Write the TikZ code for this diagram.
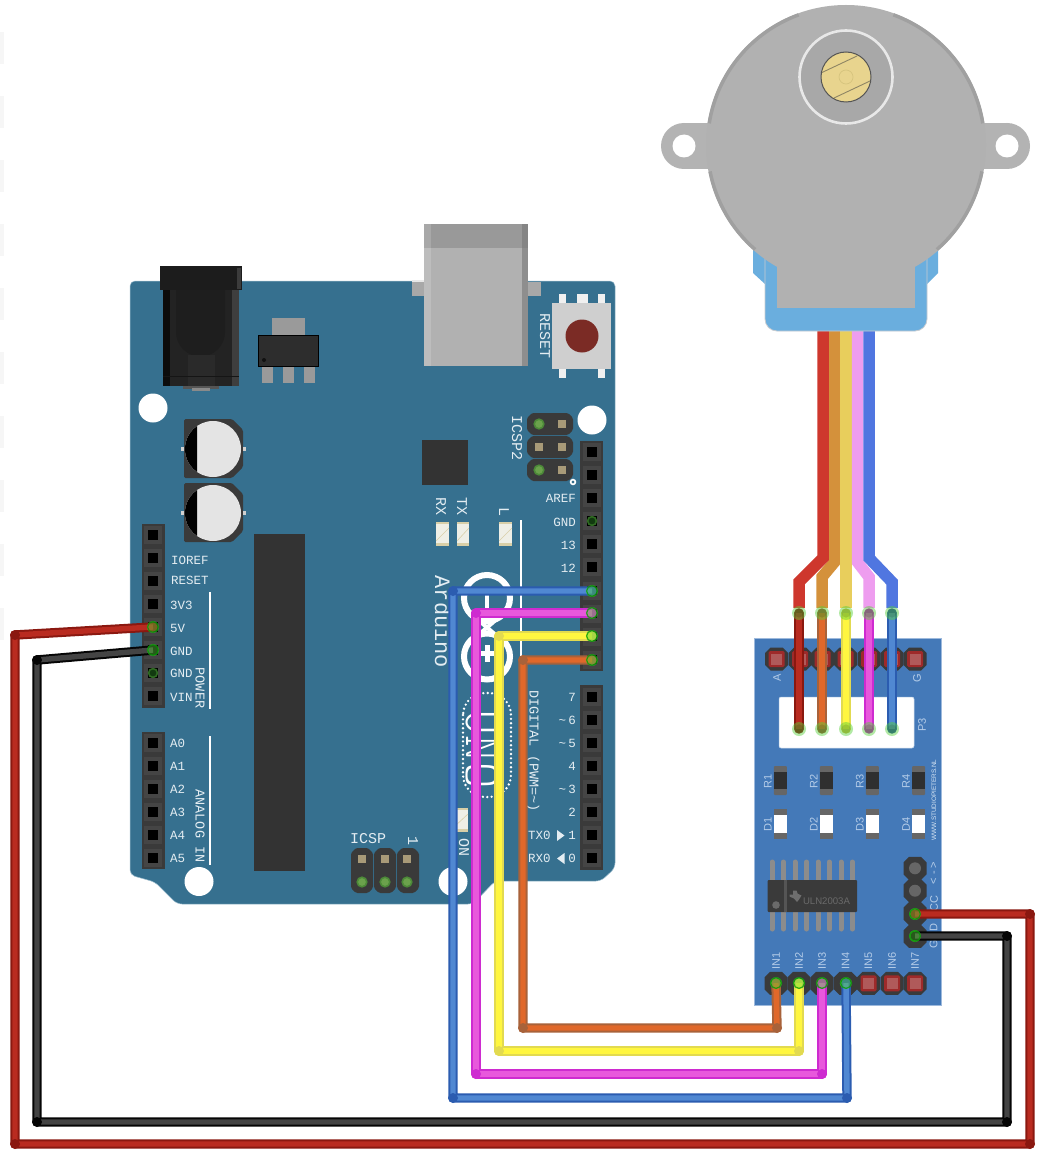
\documentclass[tikz,border=0pt]{standalone}
\usepackage{fontspec}
\setmainfont{Liberation Sans}
\newfontfamily\monof{Liberation Mono}
\newfontfamily\unof{Latin Modern Mono Light}
\usetikzlibrary{calc}
\definecolor{boardc}{HTML}{36708F}
\definecolor{btext}{HTML}{E4EDF2}
\definecolor{modc}{HTML}{4479B8}
\definecolor{mtext}{HTML}{B4CCE8}
\definecolor{hdr}{HTML}{3A3A3A}
\definecolor{hdrb}{HTML}{454545}
\definecolor{motorc}{HTML}{B1B1B1}
\definecolor{motord}{HTML}{A0A0A0}
\definecolor{bracket}{HTML}{6AAEDE}
\definecolor{tanc}{HTML}{A89A78}
\definecolor{halo}{HTML}{55D038}
\newcommand\szf[1]{\fontsize{#1}{#1}\selectfont}
\tikzset{
  HTML/.code={\definecolor{tmpc}{HTML}{#1}\tikzset{color=tmpc}},
  HF/.code={\definecolor{tmpf}{HTML}{#1}\tikzset{fill=tmpf}},
  HD/.code={\definecolor{tmpd}{HTML}{#1}\tikzset{draw=tmpd}},
  HT/.code={\definecolor{tmpt}{HTML}{#1}\tikzset{text=tmpt}},
  blab/.style={font=\monof\szf{12.5},text=btext,inner sep=0pt},
  blabr/.style={font=\monof\szf{13.5},text=btext,inner sep=0pt,rotate=-90},
  blabb/.style={font=\monof\szf{15},text=btext,inner sep=0pt,rotate=-90},
  mlab/.style={font=\szf{11},text=mtext,inner sep=0pt,rotate=90},
}
% header strip with square pads
\newcommand\hdrbg[4]{\fill[hdr] (#1,#2) rectangle (#3,#4);}
\newcommand\hpin[2]{\fill[hdrb] ($(#1,#2)+(-9,-9)$) rectangle ($(#1,#2)+(9,9)$);\fill[black] ($(#1,#2)+(-4.8,-4.8)$) rectangle ($(#1,#2)+(4.8,4.8)$);}
\newcommand\gpin[2]{\fill[hdrb] ($(#1,#2)+(-9,-9)$) rectangle ($(#1,#2)+(9,9)$);\fill[black] ($(#1,#2)+(-4.8,-4.8)$) rectangle ($(#1,#2)+(4.8,4.8)$);\draw[line width=1.6pt,HD=2F6A22,HF=123A10] (#1,#2) circle[radius=4.4pt];}
% chamfered pad background, x1,y1,x2,y2
\newcommand\padbg[4]{\fill[hdr,rounded corners=1.5pt] ({#1+5},#2)--({#3-5},#2)--(#3,{#2+5})--(#3,{#4-5})--({#3-5},#4)--({#1+5},#4)--(#1,{#4-5})--(#1,{#2+5})--cycle;}
\newcommand\greenp[2]{\draw[line width=1.8pt,HD=3DA52A,HF=1F5A1A] (#1,#2) circle[radius=4.8pt];}
\newcommand\greeni[2]{\draw[line width=1.6pt,HD=4C8A38,HF=6BA24C] (#1,#2) circle[radius=4.8pt];}
\newcommand\tanp[2]{\fill[tanc] ($(#1,#2)+(-4,-4)$) rectangle ($(#1,#2)+(4,4)$);}
% module octagon
\newcommand\octp[2]{\fill[hdr,shift={(#1,#2)}] (-6,-11.5)--(6,-11.5)--(11.5,-6)--(11.5,6)--(6,11.5)--(-6,11.5)--(-11.5,6)--(-11.5,-6)--cycle;}
\newcommand\redp[2]{\octp{#1}{#2}\fill[HTML=9E2A2A,rounded corners=1.5pt] ($(#1,#2)+(-8,-8)$) rectangle ($(#1,#2)+(8,8)$);\fill[HTML=B05A5A] ($(#1,#2)+(-5.5,-5.5)$) rectangle ($(#1,#2)+(5.5,5.5)$);}
\newcommand\ledbox[4]{\fill[HTML=EFEFE6] (#1,#2) rectangle (#3,#4);\fill[HTML=D8CFA8] (#1,{#4-3}) rectangle (#3,#4);\fill[HTML=D8CFA8] (#1,#2) rectangle (#3,{#2+1.5});\draw[HTML=D8CFA8,line width=.6pt] (#1,{#4-5})--(#3,{#2+6});}
% wire: dark, light, path, corners
\newcommand\swire[3]{\draw[line width=9.4pt,HTML=#1,line join=round,line cap=round] #3;\draw[line width=5.4pt,HTML=#2,line join=miter] #3;}
\newcommand\wire[4]{\swire{#1}{#2}{#3}\foreach \cc in {#4}{\fill[HTML=#1] (\cc) circle[radius=5pt];}}
\newcommand\pinhalo[1]{\fill[halo,opacity=.42] (#1) circle[radius=6pt];\draw[green!60!black,opacity=.75,line width=1.2pt] (#1) circle[radius=5.4pt];}
\newcommand\palehalo[1]{\fill[halo,opacity=.45] (#1) circle[radius=7pt];\fill[black,opacity=.12] (#1) circle[radius=4.6pt];}
\begin{document}
\begin{tikzpicture}[x=1pt,y=-1pt]
\useasboundingbox (0,0) rectangle (1040,1158);
\fill[white] (0,0) rectangle (1040,1158);
\foreach \yy in {32,96,...,608}{\fill[HTML=F6F6F6] (0,\yy) rectangle (4,\yy+32);}

%%% ---------- pins as coordinates
\coordinate (d11) at (592,591);\coordinate (d10) at (592,613);\coordinate (d9) at (592,636);\coordinate (d8) at (592,660);
\coordinate (vfive) at (153,627);\coordinate (agnd) at (153,650);
\coordinate (in1) at (776,983);\coordinate (in2) at (799,983);\coordinate (in3) at (822,983);\coordinate (in4) at (846,983);
\coordinate (mvcc) at (915,914);\coordinate (mgnd) at (915,936);
\foreach \n/\xx in {a/799,b/822,c/846,d/869,e/892}{\coordinate (mt\n) at (\xx,613);\coordinate (mb\n) at (\xx,729);}

%%% ---------- Arduino board
\draw[fill=boardc,HD=9CBDCE,line width=.5pt,rounded corners=5pt] (130,281)--(615,281)--(615,868)--(601,881)--(495,881)--(473,904)--(177,904)--(155,882)--(130,875)--cycle;
% mounting holes
\foreach \xx/\yy in {153/408,592/420,199/881.5,453/881.5}{\fill[white] (\xx,\yy) circle[radius=14.5pt];}
% barrel jack
\fill[HTML=555555] (183,385) rectangle (219,389);
\fill[HTML=8A8A8A] (192,388) rectangle (210,391);
\fill[HTML=232323] (163,290) rectangle (239,386);
\fill[HTML=0C0C0C] (163,290) rectangle (170,386);
\fill[HTML=3E3E3E] (232,290) rectangle (239,386);
\fill[HTML=1E1E1E] (176,290)--(225,290)--(225,332) arc[start angle=0,end angle=-180,radius=24.5pt]--cycle;
\fill[HTML=2A2A2A] (188,355) rectangle (215,386);
\fill[HTML=151515] (163,376) rectangle (239,377);
\fill[HTML=1C1C1C] (160,266) rectangle (242,290);
\fill[HTML=3C3C3C] (237,268) rectangle (241,289);
% regulator
\fill[HTML=9A9A9A] (272,318) rectangle (305,335);
\foreach \xx in {262,283,304}{\fill[HTML=9A9A9A] (\xx,367) rectangle (\xx+11,383);}
\draw[HF=2D2D2D,draw=black,line width=1pt] (258.5,335.5) rectangle (318.5,366.5);
\fill[HTML=111111] (264,360) circle[radius=2pt];
% USB
\fill[HTML=A8A8A8] (412,282) rectangle (424,296);
\fill[HTML=A8A8A8] (528,282) rectangle (541,296);
\fill[HTML=E8E8E8] (412,280) rectangle (424,282);
\fill[HTML=B1B1B1] (424,248) rectangle (528,366);
\fill[HTML=BDBDBD] (424,248) rectangle (431,366);
\fill[HTML=8E8E8E] (522,248) rectangle (528,366);
\fill[HTML=999999] (424,224) rectangle (528,248);
\fill[HTML=A8A8A8] (424,224) rectangle (431,248);
\fill[HTML=858585] (522,224) rectangle (528,248);
% reset button
\foreach \xx in {559,598}{\fill[HTML=F0F0F0] (\xx,294) rectangle (\xx+7,303);\fill[HTML=F0F0F0] (\xx,369) rectangle (\xx+7,378);}
\fill[HTML=F0F0F0] (577,294) rectangle (588,303);
\fill[HTML=CFCFCF] (552,303) rectangle (611,369);
\fill[HTML=7B2B25] (582,336) circle[radius=16.5pt];
\node[blabb] (lreset) at (545,336) {RESET};
% capacitors
\foreach \yy in {449,513}{
  \fill[hdr,rounded corners=1.5pt] (184,\yy-30)--(232,\yy-30)--(243,\yy-19)--(243,\yy+18)--(232,\yy+29)--(184,\yy+29)--cycle;
  \fill[HTML=D0D0D0] (181,\yy-2) rectangle (184,\yy+2);
  \fill[HTML=D0D0D0] (243,\yy-2) rectangle (246,\yy+2);
  \fill[HTML=E4E4E4] (213,\yy) circle[radius=28pt];
  \begin{scope}
    \clip (180,\yy-30) rectangle (197,\yy+30);
    \fill[black] (213,\yy) circle[radius=28pt];
  \end{scope}
}
% chips
\fill[HTML=333333] (254,534) rectangle (305,871);
\fill[HTML=333333] (422,440) rectangle (468,485);
% ICSP2
\padbg{527}{413}{573}{435}\padbg{527}{436}{573}{458}\padbg{527}{459}{573}{481}
\greeni{539}{424}\tanp{562}{424}\tanp{539}{447}\tanp{562}{447}\greeni{539}{470}\tanp{562}{470}
\draw[white,fill=boardc,line width=1.6pt] (573,482) circle[radius=2.4pt];
\node[blabb] (licspb) at (517,438) {ICSP2};
% ICSP
\padbg{351}{848}{373}{893}\padbg{374}{848}{396}{893}\padbg{397}{848}{419}{893}
\foreach \xx in {362,385,407}{\tanp{\xx}{859}\greeni{\xx}{882}}
\node[font=\monof\szf{15},text=btext,inner sep=0pt] (licsp) at (368,839) {ICSP};
\node[blabb] (lione) at (413,841) {1};
% LEDs
\ledbox{436}{522}{449}{546}\ledbox{457}{522}{469}{546}\ledbox{499}{522}{512}{546}\ledbox{454}{808}{468}{832}
\node[blabb] (lrx) at (441,506) {RX};
\node[blabb] (ltx) at (462,506) {TX};
\node[blabb] (ll) at (504,512) {L};
\node[blabb] (lon) at (464,847) {ON};
% headers
\hdrbg{580}{441}{603}{671}\hdrbg{580}{685}{603}{870}\hdrbg{142}{524}{165}{708}\hdrbg{142}{732}{165}{869}
\foreach \yy in {452,475,498,544,567,590.5,613.5,636.5,659.5,697,720,743,766,789,812,835,858}{\hpin{592}{\yy}}
\gpin{592}{521}
\foreach \yy in {535,558,581,604,627,650,696,743,766,789,812,835,858}{\hpin{153}{\yy}}
\gpin{153}{673}
% white lines
\draw[white,line width=1.6pt] (210,592)--(210,709);
\draw[white,line width=1.6pt] (210,736)--(210,865);
\draw[white,line width=1.6pt] (521,520)--(521,657);
% left labels
\node[blab,anchor=west] (lioref) at (171,560) {IOREF};
\node[blab,anchor=west] (lrst) at (171,580) {RESET};
\node[blab,anchor=west] (l3v3) at (170,605) {3V3};
\node[blab,anchor=west] (l5v) at (170,628) {5V};
\node[blab,anchor=west] (lgnda) at (170,651) {GND};
\node[blab,anchor=west] (lgndb) at (170,673) {GND};
\node[blab,anchor=west] (lvin) at (170,697) {VIN};
\foreach \tx/\yy in {A0/743,A1/766,A2/789,A3/812,A4/835,A5/858}{\node[blab,anchor=west] (l\tx) at (170,\yy) {\tx};}
\node[blabr] (lpower) at (200,688) {POWER};
\node[blabr] (lanalog) at (200,826) {ANALOG IN};
% right labels
\foreach \tx/\yy in {AREF/498,GND/522,13/545,12/568,7/697,4/766,2/812}{\node[blab,anchor=east] (r\tx) at (576,\yy) {\tx};}
\node[blab,anchor=east] (rsix) at (576,720) {\textasciitilde\,6};
\node[blab,anchor=east] (rfive) at (576,743) {\textasciitilde\,5};
\node[blab,anchor=east] (rthree) at (576,789) {\textasciitilde\,3};
\node[blab,anchor=east] (rone) at (576,835.5) {1};
\node[blab,anchor=east] (rzero) at (576,858.5) {0};
\node[blab,anchor=west] (rtx) at (528,835.5) {TX0};
\node[blab,anchor=west] (rrx) at (528,858.5) {RX0};
\fill[btext] (557,830)--(564.5,835.5)--(557,841)--cycle;
\fill[btext] (564.5,853)--(557,858.5)--(564.5,864)--cycle;
\node[blabr] (ldig) at (533,751) {DIGITAL (PWM=\textasciitilde)};
% logo
\node[font=\monof\szf{22},text=btext,inner sep=0pt,rotate=-90] (larduino) at (443,622) {Arduino};
\draw[white,line width=6pt] (487,598) circle[radius=23pt];
\draw[white,line width=6pt] (487,656.5) circle[radius=23pt];
\draw[white,line width=4pt] (476,618)--(498,637);
\draw[white,line width=4pt] (498,618)--(476,637);
\fill[white] (485,593) rectangle (489,610);
\fill[white] (484.5,645) rectangle (489.5,662);
\fill[white] (479,651) rectangle (495,656);
\draw[white,line width=2.6pt,line cap=round,dash pattern=on 0pt off 4.4pt,rounded corners=22pt] (463,693) rectangle (511,797);
\node[font=\unof\szf{50},text=white,inner sep=0pt,rotate=-90] (luno) at (482,749) {UNO};

%%% ---------- Stepper motor
\foreach \xa/\xb [count=\i] in {823/799,834.5/822,846/846,857.5/869,869/892}{
  \coordinate (rt\i) at (\xa,325);\coordinate (rb\i) at (\xb,608);
}
\draw[HTML=D4913B,line width=11.5pt] (rt2)--(834.5,562)--(822,577)--(rb2);
\draw[HTML=CE372D,line width=11.5pt] (rt1)--(823,558)--(799,582)--(rb1);
\draw[HTML=E8CE5C,line width=11.5pt] (rt3)--(rb3);
\draw[HTML=EE9DEF,line width=11.5pt] (rt4)--(857.5,562)--(869,577)--(rb4);
\draw[HTML=5076E0,line width=11.5pt] (rt5)--(869,558)--(892,582)--(rb5);
\fill[bracket] (753,250)--(753,273)--(765,284)--(927,284)--(938,273)--(938,250)--cycle;
\draw[fill=bracket,HD=C8CCD0,line width=.8pt] (765,250)--(927,250)--(927,319) arc[start angle=0,end angle=-90,radius=12pt]--(777,331) arc[start angle=-90,end angle=-180,radius=12pt]--cycle;
\fill[motorc] (777,255) rectangle (915,308);
% ears
\fill[HTML=B3B3B3] (684,146) circle[radius=23pt];\fill[HTML=B3B3B3] (684,123) rectangle (725,169);
\fill[HTML=B3B3B3] (1007,146) circle[radius=23pt];\fill[HTML=B3B3B3] (970,123) rectangle (1007,169);
\fill[white] (684,146) circle[radius=11.5pt];
\fill[white] (1007,146) circle[radius=11.5pt];
% body
\fill[motorc] (846,145) circle[radius=140pt];
\foreach \aa/\bb in {110/171,191/229,9/70,-49/-11}{
  \draw[motord,line width=3.5pt] (846,145) ++(\aa:138.5pt) arc[start angle=\aa,end angle=\bb,radius=138.5pt];
}
\draw[HD=E8E8E8,HF=A8A8A8,line width=2.6pt] (846,77) circle[radius=46.5pt];
\draw[HD=555555,HF=E8D48E,line width=1pt] (846,77) circle[radius=25pt];
\draw[HTML=8E8564,line width=.9pt] (822,72.5)--(857,56);
\draw[HTML=8E8564,line width=.9pt] (834,98)--(870,81);
\draw[HTML=D6C47E,line width=.7pt] (846,77) circle[radius=7pt];

%%% ---------- Driver module
\draw[fill=modc,HD=9DB9DC,line width=.6pt] (754,638) rectangle (941,1005);
\draw[fill=white,HD=B8CCE4,line width=.5pt,rounded corners=2pt] (779,697) rectangle (914,748);
\foreach \xx in {776.7,800,822.7,845.7,869,892,915}{\redp{\xx}{659}}
\node[mlab] (ma) at (777,678) {A};
\node[mlab] (mg) at (917,678) {G};
\node[mlab] (mp) at (922,725) {P3};
\foreach \xx/\tx in {780.3/1,826.3/2,872.3/3,918.7/4}{
  \fill[HTML=666666,rounded corners=1pt] (\xx-6.5,766) rectangle (\xx+6.5,795);
  \fill[HTML=2F2F2F] (\xx-6.5,772) rectangle (\xx+6.5,789);
  \node[mlab] (mr\tx) at (\xx-12.5,781) {R\tx};
  \fill[HTML=666666] (\xx-6.5,809) rectangle (\xx+6.5,839);
  \fill[white] (\xx-6.5,815) rectangle (\xx+6.5,833);
  \node[mlab] (md\tx) at (\xx-12.5,824) {D\tx};
}
\node[font=\szf{6.4},HT=D8E6F4,inner sep=0pt,rotate=90] (mweb) at (934,800) {WWW.STUDIOPIETERS.NL};
% ULN2003A
\foreach \xx in {772,783.4,795,806.5,818,829.4,841,852.3}{\draw[HTML=8C8C8C,line width=5pt,line cap=round] (\xx,862)--(\xx,929);}
\fill[HTML=3A3A3A,rounded corners=1pt] (767.5,880) rectangle (857,912);
\fill[HTML=555555] (783.5,880) rectangle (786.5,912);
\fill[HTML=6A6A6A] (776,905) circle[radius=3.8pt];
\fill[HTML=6E6E6E,shift={(795,895.5)}] (-5.5,-1)--(-2,-1)--(-2,-5)--(1.5,-5)--(2.5,-2)--(6.5,0)--(4,4)--(2,6.5)--(-1,3)--(-5.5,1)--cycle;
\node[font=\szf{9.6},HT=6A6A6A,inner sep=0pt] (muln) at (826.5,901.5) {ULN2003A};
% right column
\foreach \yy in {868.3,890.7,913.7,936.3}{\octp{915}{\yy}}
\fill[HTML=666666] (915,868.3) circle[radius=6pt];
\fill[HTML=666666] (915,890.7) circle[radius=6pt];
\greenp{915}{914}\greenp{915}{936}
\node[mlab] (mar) at (934,873) {< - >};
\node[mlab] (mvc) at (934,907) {VCC};
\node[mlab] (mgn) at (933.5,936) {GND};
% bottom header
\foreach \xx/\tx in {776/1,799/2,822/3,845.5/4,868.5/5,892/6,915/7}{\node[mlab] (min\tx) at (\xx,960.5) {IN\tx};}
\foreach \xx in {776,799,822,845.5}{\octp{\xx}{983.3}\greenp{\xx}{983.3}}
\foreach \xx in {868.5,892,915}{\redp{\xx}{983.3}}

%%% ---------- Wires
\coordinate (b1) at (453,591);\coordinate (b2) at (453,1098);\coordinate (b3) at (847,1098);
\coordinate (m1) at (476,613);\coordinate (m2) at (476,1074);\coordinate (m3) at (822,1074);
\coordinate (y1) at (499,636);\coordinate (y2) at (499,1051);\coordinate (y3) at (799,1051);
\coordinate (o1) at (523,660);\coordinate (o2) at (523,1028);\coordinate (o3) at (777,1028);
\coordinate (r1) at (15,635);\coordinate (r2) at (15,1144);\coordinate (r3) at (1030,1144);\coordinate (r4) at (1030,914);
\coordinate (k1) at (37,660);\coordinate (k2) at (37,1122);\coordinate (k3) at (1007,1122);\coordinate (k4) at (1007,936);

\wire{2B5CB0}{5088D2}{(d11)--(b1)--(b2)--(b3)--(in4)}{b1,b2,b3}
\wire{CE2BD0}{E858DC}{(d10)--(m1)--(m2)--(m3)--(in3)}{m1,m2,m3}
\wire{E2DA50}{FFF640}{(d9)--(y1)--(y2)--(y3)--(in2)}{y1,y2,y3}
\wire{A8623A}{E0682A}{(d8)--(o1)--(o2)--(o3)--(in1)}{o1,o2,o3}
\wire{8A1810}{B92B20}{(vfive)--(r1)--(r2)--(r3)--(r4)--(mvcc)}{r1,r2,r3,r4}
\wire{050505}{444444}{(agnd)--(k1)--(k2)--(k3)--(k4)--(mgnd)}{k1,k2,k3,k4}
\swire{8A1810}{B92B20}{(mta)--(mba)}
\swire{A8623A}{E0682A}{(mtb)--(mbb)}
\swire{E2DA50}{FFF640}{(mtc)--(mbc)}
\swire{CE2BD0}{E858DC}{(mtd)--(mbd)}
\swire{2B5CB0}{5088D2}{(mte)--(mbe)}
\foreach \p in {d11,d10,d9,d8,vfive,agnd,in1,in2,in3,in4,mvcc,mgnd}{\pinhalo{\p}}
\foreach \n in {a,b,c,d,e}{\palehalo{mt\n}\palehalo{mb\n}}
\end{tikzpicture}
\end{document}
